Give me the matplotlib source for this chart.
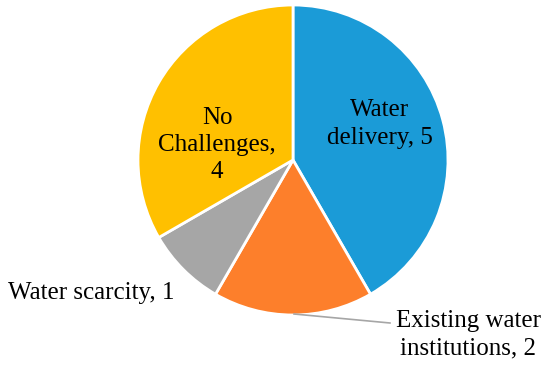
import matplotlib
matplotlib.use("Agg")
import matplotlib.pyplot as plt

# Datos del gráfico
categories = ["Water delivery", "Existing water institutions", "Water scarcity", "No Challenges"]
values = [5, 2, 1, 4]
colors = ["#1b9bd7", "#fd7f2b", "#a6a6a6", "#ffc000"]

plt.rcParams["font.family"] = ["Liberation Serif", "DejaVu Serif"]

fig = plt.figure(figsize=(5.5, 3.68), dpi=100)
# centro del pastel en (293, 160) px, radio 155 px
W, H = 550, 368
cx, cy, r = 293, 160, 155
ax = fig.add_axes([(cx - r) / W, (H - cy - r) / H, 2 * r / W, 2 * r / H])

ax.pie(values, colors=colors, startangle=90, counterclock=False, radius=1,
       wedgeprops=dict(edgecolor="white", linewidth=2))
ax.set_xlim(-1, 1)
ax.set_ylim(-1, 1)
ax.set_aspect("equal")
ax.axis("off")


def px(x, y):
    # convierte pixeles de la imagen a coordenadas del eje
    return (x - cx) / r, (cy - y) / r


fs = 18
ax.text(*px(380, 124), "Water\ndelivery, " + str(values[0]), ha="center", va="center",
        fontsize=fs, linespacing=1.3)
ax.text(*px(217, 145), "No\nChallenges,\n" + str(values[3]), ha="center", va="center",
        fontsize=fs, linespacing=1.3)
ax.text(*px(8, 293), "Water scarcity, " + str(values[2]), ha="left", va="center",
        fontsize=fs, clip_on=False)
ax.text(*px(468, 335), "Existing water\ninstitutions, " + str(values[1]), ha="center", va="center",
        fontsize=fs, linespacing=1.3, clip_on=False)

# línea guía
x0, y0 = px(294, 314)
x1, y1 = px(390, 323)
ax.plot([x0, x1], [y0, y1], color="#a6a6a6", linewidth=1.2, clip_on=False)

fig.savefig("out.png", dpi=100)
